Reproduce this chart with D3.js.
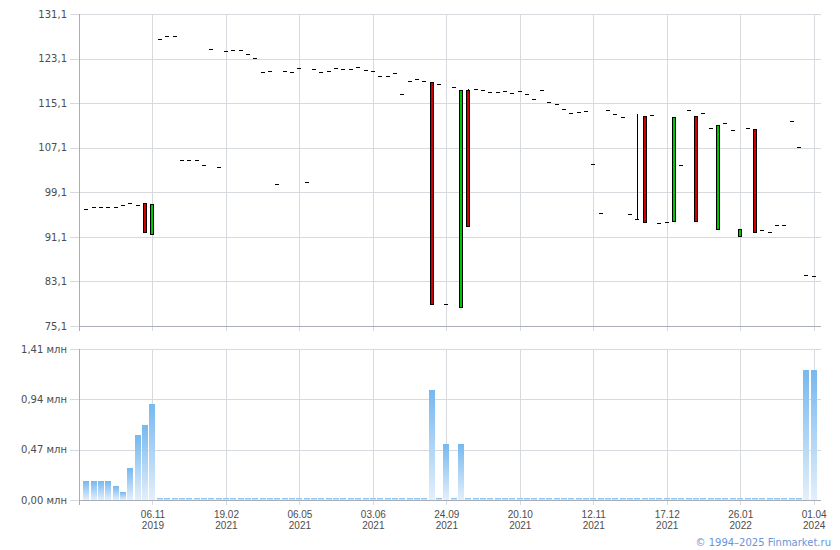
<!DOCTYPE html>
<html><head><meta charset="utf-8">
<script src="https://cdn.jsdelivr.net/npm/d3@7/dist/d3.min.js"></script>
<style>
body{margin:0;background:#fff;}
svg{display:block;font-family:"DejaVu Sans",Verdana,sans-serif;}
</style></head><body>
<svg id="c" width="840" height="550"></svg>
<script>
// ---- data ----
const closeP = [
  96.05, 96.4, 96.4, 96.4, 96.5, 96.76, 97.18, 96.76, 91.9, 96.94,
  126.56, 127.15, 127.15, 104.84, 104.84, 104.84, 104.0, 124.82, 103.58, 124.46,
  124.64, 124.64, 123.97, 123.15, 120.69, 120.87, 100.59, 120.87, 120.69, 121.35,
  100.89, 121.17, 120.69, 120.82, 121.35, 121.17, 121.17, 121.53, 121.0, 120.82,
  119.92, 119.92, 120.51, 116.69, 119.02, 119.38, 119.02, 79.0, 118.48, 79.0,
  117.94, 117.4, 93.0, 117.58, 117.4, 117.05, 117.05, 117.23, 116.87, 117.23,
  116.69, 115.79, 117.4, 115.25, 114.89, 114.0, 113.28, 113.46, 113.64, 104.12,
  95.33, 113.82, 113.1, 112.56, 95.15, 94.25, 93.71, 112.92, 93.53, 93.82,
  112.56, 103.94, 113.82, 93.89, 113.28, 110.58, 111.12, 111.48, 110.23, 92.46,
  110.58, 91.92, 92.28, 91.92, 93.17, 93.17, 111.84, 107.17, 84.25, 84.07
];
// candles with a real open/high (others: open = high = low = close)
const candleAt   = [8, 9, 47, 51, 52, 75, 76, 80, 83, 86, 89, 91];
const candleOpen = [97.2, 91.67, 118.84, 78.46, 117.4, 94.25, 112.74, 93.89, 112.74, 92.46, 91.2, 110.4];
const candleHigh = [null, null, null, null, 117.58, 113.15, null, null, null, null, null, null];

// volume, млн
const volume = [
  0.176, 0.176, 0.176, 0.176, 0.13, 0.074, 0.297, 0.603, 0.696, 0.90,
  0.015, 0.015, 0.015, 0.015, 0.015, 0.015, 0.015, 0.015, 0.015, 0.015,
  0.015, 0.015, 0.015, 0.015, 0.015, 0.015, 0.015, 0.015, 0.015, 0.015,
  0.015, 0.015, 0.015, 0.015, 0.015, 0.015, 0.015, 0.015, 0.015, 0.015,
  0.015, 0.015, 0.015, 0.015, 0.015, 0.015, 0.015, 1.03, 0.015, 0.52,
  0.015, 0.52, 0.015, 0.015, 0.015, 0.015, 0.015, 0.015, 0.015, 0.015,
  0.015, 0.015, 0.015, 0.015, 0.015, 0.015, 0.015, 0.015, 0.015, 0.015,
  0.015, 0.015, 0.015, 0.015, 0.015, 0.015, 0.015, 0.015, 0.015, 0.015,
  0.015, 0.015, 0.015, 0.015, 0.015, 0.015, 0.015, 0.015, 0.015, 0.015,
  0.015, 0.015, 0.015, 0.015, 0.015, 0.015, 0.015, 0.015, 1.215, 1.215
];

const xTickIdx   = [9, 19, 29, 39, 49, 59, 69, 79, 89, 99];
const xTickDay   = ["06.11", "19.02", "06.05", "03.06", "24.09", "20.10", "12.11", "17.12", "26.01", "01.04"];
const xTickYear  = ["2019", "2021", "2021", "2021", "2021", "2021", "2021", "2021", "2022", "2024"];
const priceTicks = [75.1, 83.1, 91.1, 99.1, 107.1, 115.1, 123.1, 131.1];
const volTicks   = [0, 0.47, 0.94, 1.41];

// ---- build rows ----
const rows = closeP.map((c, i) => {
  const k = candleAt.indexOf(i);
  const o = k >= 0 ? candleOpen[k] : c;
  let h = Math.max(o, c), l = Math.min(o, c);
  if (k >= 0 && candleHigh[k] != null) h = candleHigh[k];
  return {i, o, h, l, c, v: volume[i]};
});

// ---- layout ----
const L = 79, R = 821;
const pTop = 14, pBot = 326, vTop = 349, vBot = 500;
const GRID = "#d6dade", AXIS = "#a9adb6", TXT = "#4d4d4d";

const svg = d3.select("#c");
const x = d3.scaleLinear().domain([-1, 100]).range([L, R]);
const yP = d3.scaleLinear().domain([75.1, 131.1]).range([pBot, pTop]);
const yV = d3.scaleLinear().domain([0, 1.41]).range([vBot, vTop]);

const fmt1 = v => d3.format(".1f")(v).replace(".", ",");
const fmt2 = v => d3.format(".2f")(v).replace(".", ",") + " млн";

const defs = svg.append("defs");
const grad = defs.append("linearGradient").attr("id", "vg")
  .attr("x1", 0).attr("y1", 0).attr("x2", 0).attr("y2", 1);
grad.append("stop").attr("offset", "0%").attr("stop-color", "#76b8ef");
grad.append("stop").attr("offset", "100%").attr("stop-color", "#e3effb");

function styleAxis(g) {
  g.select(".domain").remove();
  g.selectAll(".tick line").attr("stroke", GRID).attr("shape-rendering", "crispEdges");
  g.selectAll(".tick text").attr("fill", TXT).attr("font-size", 10)
    .attr("font-family", '"DejaVu Sans",Verdana,sans-serif');
}

// horizontal grids + y labels
svg.append("g").attr("transform", `translate(${R},0)`)
  .call(d3.axisLeft(yP).tickValues(priceTicks).tickSize(R - L + 9).tickPadding(3).tickFormat(fmt1))
  .call(styleAxis);
svg.append("g").attr("transform", `translate(${R},0)`)
  .call(d3.axisLeft(yV).tickValues(volTicks).tickSize(R - L + 9).tickPadding(3).tickFormat(fmt2))
  .call(styleAxis);

// vertical grids in both panels
svg.append("g").attr("transform", `translate(0,${pTop})`)
  .call(d3.axisBottom(x).tickValues(xTickIdx).tickSize(pBot - pTop + 5).tickFormat(""))
  .call(styleAxis);
const xg = svg.append("g").attr("transform", `translate(0,${vTop})`)
  .call(d3.axisBottom(x).tickValues(xTickIdx).tickSize(vBot - vTop + 5).tickFormat(""))
  .call(styleAxis);
xg.selectAll(".tick").each(function(d, j) {
  const t = d3.select(this).append("text").attr("fill", TXT).attr("font-size", 10)
    .attr("text-anchor", "middle");
  t.append("tspan").attr("x", 0).attr("y", 517.5 - vTop).text(xTickDay[j]);
  t.append("tspan").attr("x", 0).attr("y", 529 - vTop).text(xTickYear[j]);
});

// axis lines
const ax = svg.append("g").attr("stroke", AXIS).attr("shape-rendering", "crispEdges");
ax.append("line").attr("x1", L + 0.5).attr("x2", L + 0.5).attr("y1", pTop).attr("y2", pBot + 5);
ax.append("line").attr("x1", L).attr("x2", R).attr("y1", pBot + 0.5).attr("y2", pBot + 0.5);
ax.append("line").attr("x1", L + 0.5).attr("x2", L + 0.5).attr("y1", vTop).attr("y2", vBot + 5);
ax.append("line").attr("x1", L).attr("x2", R).attr("y1", vBot + 0.5).attr("y2", vBot + 0.5);

// volume bars
svg.append("g").selectAll("rect").data(rows).join("rect")
  .attr("x", d => Math.round(x(d.i)) - 3)
  .attr("width", 6)
  .attr("y", d => Math.round(yV(d.v)))
  .attr("height", d => Math.max(1.5, vBot - Math.round(yV(d.v))))
  .attr("fill", "url(#vg)")
  .attr("shape-rendering", "crispEdges");

// price marks
const pg = svg.append("g").attr("shape-rendering", "crispEdges");
rows.forEach(d => {
  const cx = Math.round(x(d.i));
  const top = Math.max(d.o, d.c), bot = Math.min(d.o, d.c);
  if (d.h > top || d.l < bot) {
    pg.append("line").attr("x1", cx + 0.5).attr("x2", cx + 0.5)
      .attr("y1", Math.round(yP(d.h))).attr("y2", Math.round(yP(d.l)) + 1)
      .attr("stroke", "#000");
  }
  if (d.o === d.c) {
    const yy = Math.round(yP(d.c)) + 0.5;
    pg.append("line").attr("x1", cx - 2).attr("x2", cx + 2).attr("y1", yy).attr("y2", yy)
      .attr("stroke", "#000");
  } else {
    const y1 = Math.round(yP(top)), y2 = Math.round(yP(bot));
    pg.append("rect").attr("x", cx - 1.5).attr("width", 3)
      .attr("y", y1 + 0.5).attr("height", Math.max(1, y2 - y1))
      .attr("fill", d.c < d.o ? "#d10000" : "#00c800")
      .attr("stroke", "#000").attr("stroke-width", 1);
  }
});

// copyright
svg.append("text").attr("x", 831).attr("y", 546).attr("text-anchor", "end")
  .attr("font-size", 10).attr("fill", "#6b93d9").text("© 1994–2025 Finmarket.ru");
</script>
</body></html>
